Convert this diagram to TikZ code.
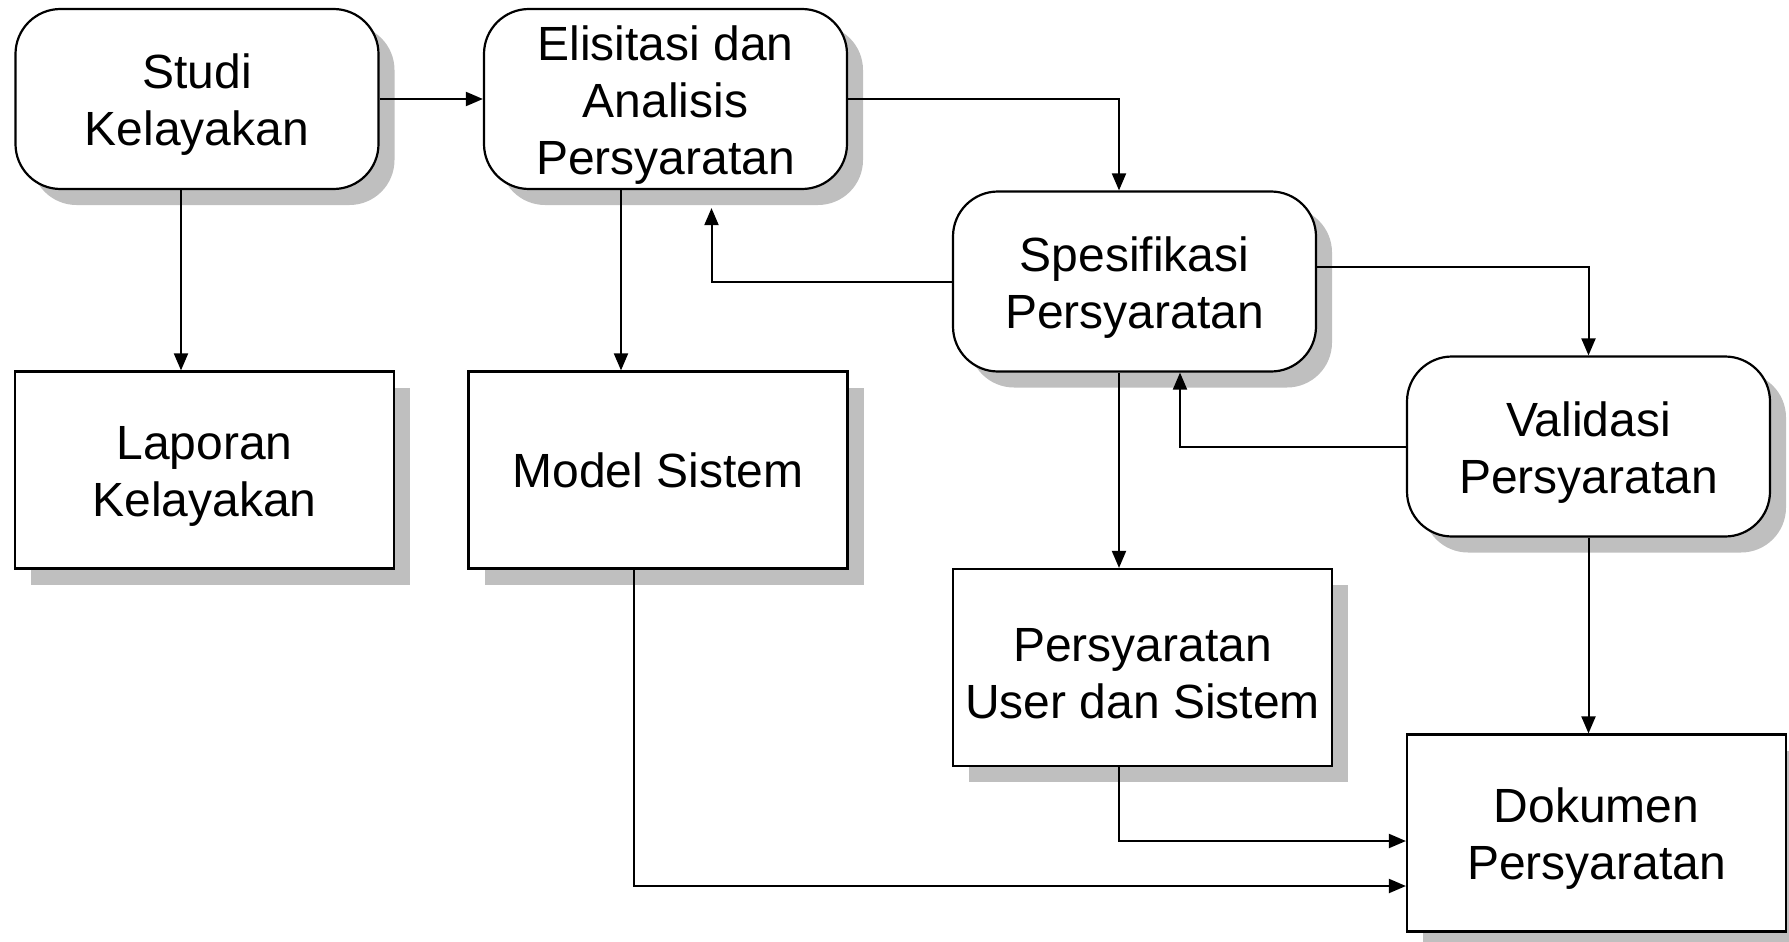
\documentclass[tikz,border=0pt]{standalone}
\usepackage{fontspec}
\setmainfont{Liberation Sans}
\usetikzlibrary{arrows.meta,shadows}

\newcommand{\tegak}{\rule[-10.8pt]{0pt}{57pt}}

\tikzset{
	box/.style={draw, thick, line width=2.2pt, fill=white, align=center,
		font=\fontsize{48}{57}\selectfont,
		drop shadow={shadow xshift=16pt, shadow yshift=-16pt, fill=gray!50, opacity=1}},
	proses/.style={box, rounded corners=45pt, minimum width=363pt, minimum height=180pt},
	hasil/.style={box, minimum width=379pt, minimum height=197pt},
}

\begin{document}
\begin{tikzpicture}[x=1pt, y=-1pt, >={Triangle[length=17pt,width=14pt]}, line width=2pt]
	\useasboundingbox (0,0) rectangle (1789,942);
	% tahapan proses
	\node[proses] (studi) at (197,99) {\tegak Studi\\Kelayakan};
	\node[proses] (elisitasi) at (665.5,99) {\tegak Elisitasi dan\\Analisis\\Persyaratan};
	\node[proses] (spesifikasi) at (1134.5,281.5) {\tegak Spesifikasi\\Persyaratan};
	\node[proses] (validasi) at (1588.5,446.5) {\tegak Validasi\\Persyaratan};
	% keluaran
	\node[hasil] (laporan) at (204.5,470) {\tegak Laporan\\Kelayakan};
	\node[hasil] (model) at (658,470) {\tegak Model Sistem};
	\node[hasil] (pus) at (1142.5,667.5) {\tegak Persyaratan\\User dan Sistem};
	\node[hasil] (dokumen) at (1596.5,833) {\tegak Dokumen\\Persyaratan};
	% alur
	\draw[->] (studi.east) -- (elisitasi.west);
	\draw[->] ([xshift=-16pt]studi.south) -- ([xshift=-16pt]studi.south |- laporan.north);
	\draw[->] ([xshift=-44.5pt]elisitasi.south) -- ([xshift=-44.5pt]elisitasi.south |- model.north);
	\draw[->] (elisitasi.east) -| ([xshift=-15.5pt]spesifikasi.north);
	\draw[->] (spesifikasi.west) -| ([xshift=46pt,yshift=-18pt]elisitasi.south);
	\draw[->] ([yshift=14.5pt]spesifikasi.east) -| (validasi.north);
	\draw[->] ([xshift=-15.5pt]spesifikasi.south) -- ([xshift=-15.5pt]spesifikasi.south |- pus.north);
	\draw[->] (validasi.west) -| ([xshift=45.5pt]spesifikasi.south);
	\draw[->] (validasi.south) -- (validasi.south |- dokumen.north);
	\draw[->] ([xshift=-23.5pt]pus.south) |- ([yshift=-8pt]dokumen.west);
	\draw[->] ([xshift=-24pt]model.south) |- ([yshift=-53pt]dokumen.west);
\end{tikzpicture}
\end{document}
